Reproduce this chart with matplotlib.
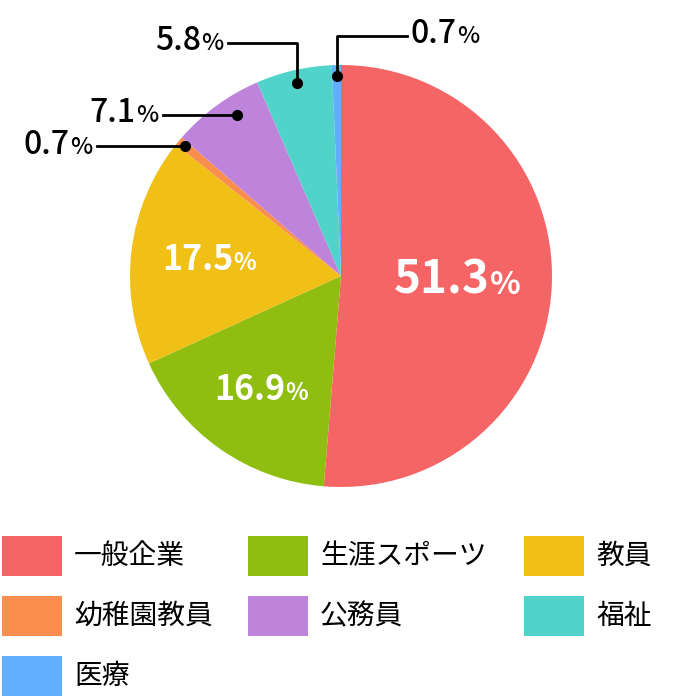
import numpy as np
import matplotlib
matplotlib.use("Agg")
import matplotlib.pyplot as plt
from matplotlib.patches import Rectangle
from matplotlib.offsetbox import TextArea, HPacker, AnnotationBbox

plt.rcParams['font.family'] = ['Noto Sans CJK JP', 'DejaVu Sans']

# data
labels = ['一般企業', '生涯スポーツ', '教員', '幼稚園教員', '公務員', '福祉', '医療']
values = [51.3, 16.9, 17.5, 0.7, 7.1, 5.8, 0.7]
colors = ['#F56565', '#8FBD10', '#F0C016', '#F98E4E', '#BE83DB', '#52D3C9', '#62AFFE']

W, H = 680, 700
cx, cy, R = 341, H - 276, 211

fig = plt.figure(figsize=(W / 100, H / 100), dpi=100)
ax = fig.add_axes([0, 0, 1, 1])
ax.set_xlim(0, W)
ax.set_ylim(0, H)
ax.set_aspect('equal')
ax.axis('off')

wedges, _ = ax.pie(values, colors=colors, startangle=90, counterclock=False,
                   center=(cx, cy), radius=R, frame=False,
                   wedgeprops=dict(linewidth=0))
ax.set_xlim(0, W)
ax.set_ylim(0, H)


def mid_point(i, rfrac, frac=0.5):
    t1, t2 = wedges[i].theta1, wedges[i].theta2
    th = np.deg2rad(t1 + frac * (t2 - t1))
    return cx + rfrac * R * np.cos(th), cy + rfrac * R * np.sin(th)


def pct_box(val, big, small, color, weight):
    a = TextArea(f'{val}', textprops=dict(fontsize=big, color=color, fontweight=weight))
    b = TextArea('%', textprops=dict(fontsize=small, color=color, fontweight=weight))
    return HPacker(children=[a, b], align='baseline', pad=0, sep=0)


# labels inside the big slices
inner = {0: (0.55, 33, 23), 1: (0.66, 24.5, 17), 2: (0.63, 24.5, 17)}
for i, (rf, big, small) in inner.items():
    x, y = mid_point(i, rf)
    ab = AnnotationBbox(pct_box(values[i], big, small, 'white', 'bold'), (x, y),
                        frameon=False, box_alignment=(0.5, 0.5), pad=0)
    ax.add_artist(ab)

# small slices with leader lines: (index, radius frac, angle frac, elbow y px, line end x)
outer = [(3, 0.96, 0.5, None, 97), (4, 0.91, 0.37, None, 163),
         (5, 0.94, 0.5, 43, 228), (6, 0.95, 0.5, 36, 407)]
for i, rf, af, ey, tx in outer:
    x, y = mid_point(i, rf, af)
    ax.plot([x], [y], 'o', color='black', markersize=7, zorder=5)
    if ey is None:
        ly = y
        ax.plot([x, tx], [y, y], color='black', lw=2)
    else:
        ly = H - ey
        ax.plot([x, x, tx], [y, ly, ly], color='black', lw=2)
    if tx < x:
        pos, al = (tx - 5, ly), (1, 0.45)
    else:
        pos, al = (tx + 4, ly), (0, 0.45)
    ab = AnnotationBbox(pct_box(values[i], 23, 17, 'black', 'medium'), pos,
                        frameon=False, box_alignment=al, pad=0)
    ax.add_artist(ab)

# legend
col_x = [2, 248, 524]
for k, (lab, c) in enumerate(zip(labels, colors)):
    r, col = divmod(k, 3)
    top = 536 + 60 * r
    ax.add_patch(Rectangle((col_x[col], H - top - 40), 60, 40, color=c, lw=0))
    ax.text(col_x[col] + 72, H - top - 20, lab, fontsize=20, va='center', ha='left')

fig.savefig('out.png', dpi=100)
